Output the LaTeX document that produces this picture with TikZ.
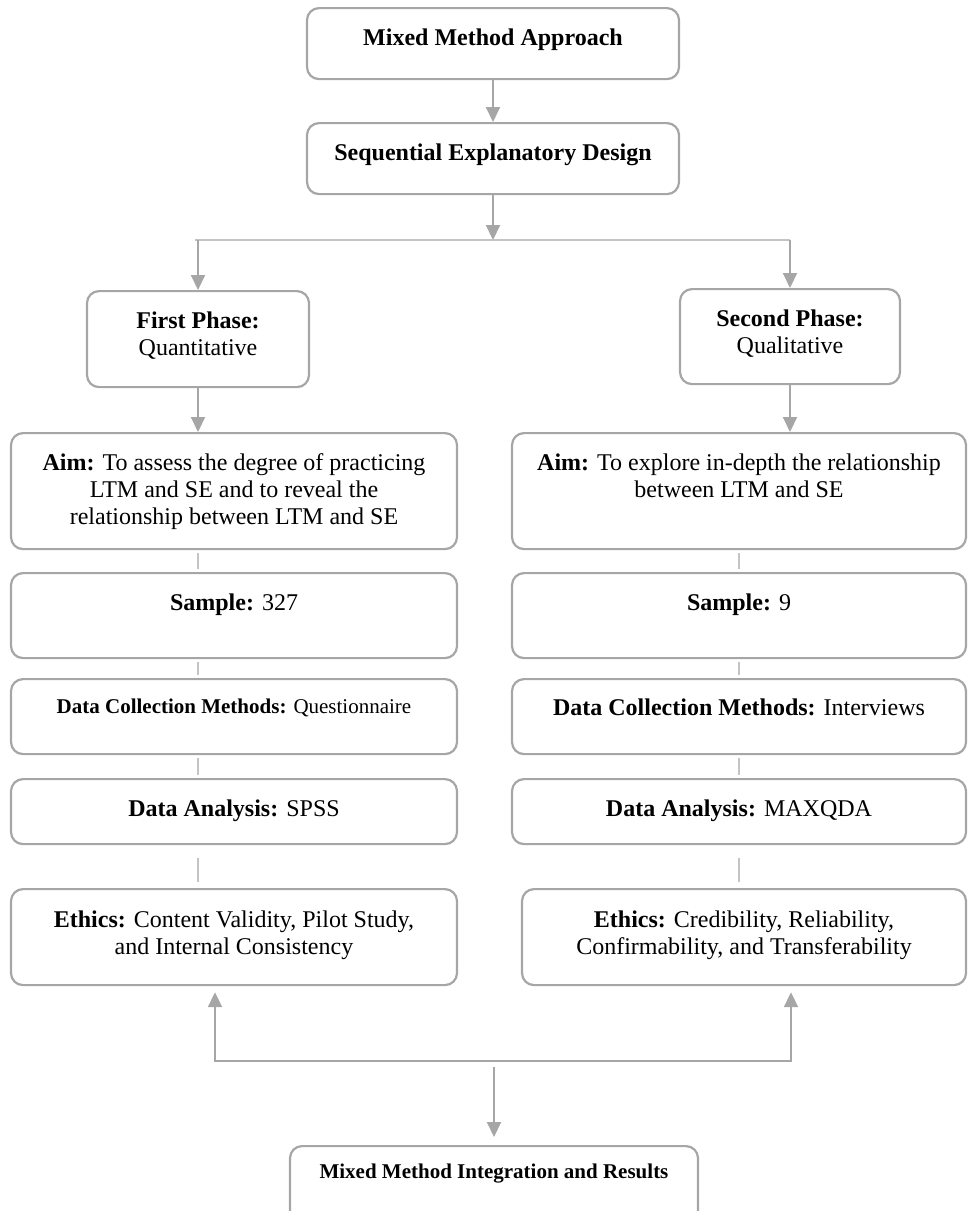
\documentclass[tikz,border=0pt]{standalone}
\usepackage{fontspec}
\setmainfont{Liberation Serif}
\usetikzlibrary{arrows.meta}
\definecolor{boxgray}{HTML}{A6A6A6}
\definecolor{linkgray}{HTML}{C4C4C4}
\begin{document}
\begin{tikzpicture}[x=0.5pt,y=-0.5pt,
    box/.style={draw=boxgray, line width=1.1pt, rounded corners=6pt, anchor=north, align=center,
        inner sep=0pt, text height=18.5pt, font=\fontsize{12}{13.5}\selectfont},
    small/.style={font=\fontsize{10.5}{12}\selectfont},
    flow/.style={draw=boxgray, line width=1pt, -{Triangle[length=7.5pt,width=7pt]}},
    link/.style={draw=linkgray, line width=0.6pt}]
    \useasboundingbox (0,0) rectangle (968,1211);
    \clip (0,0) rectangle (968,1211);

    % top of the design
    \node[box, minimum width=186pt, text depth=17pt] (MM) at (493,7) {\textbf{Mixed Method Approach}};
    \node[box, minimum width=186pt, text depth=17pt] (SE) at (493,122) {\textbf{Sequential Explanatory Design}};

    % the two phases
    \node[box, minimum width=111pt, text height=32pt, text depth=16pt] (FP) at (198,290) {\textbf{First Phase:}\\Quantitative};
    \node[box, minimum width=110pt, text height=32pt, text depth=15.5pt] (SP) at (790,288) {\textbf{Second Phase:}\\Qualitative};

    \node[box, minimum width=223pt, text height=45.5pt, text depth=12.5pt] (AL) at (234,432) {\textbf{Aim:} To assess the degree of practicing\\LTM and SE and to reveal the\\relationship between LTM and SE};
    \node[box, minimum width=227pt, text height=32pt, text depth=26pt] (AR) at (739,432) {\textbf{Aim:} To explore in-depth the relationship\\between LTM and SE};

    \node[box, minimum width=223pt, text depth=24pt] (SL) at (234,572) {\textbf{Sample:} 327};
    \node[box, minimum width=227pt, text depth=24pt] (SR) at (739,572) {\textbf{Sample:} 9};

    \node[box, small, minimum width=223pt, text height=17pt, text depth=20.5pt] (CL) at (234,678) {\textbf{Data Collection Methods:} Questionnaire};
    \node[box, minimum width=227pt, text height=18pt, text depth=19.5pt] (CR) at (739,678) {\textbf{Data Collection Methods:} Interviews};

    \node[box, minimum width=223pt, text depth=14pt] (DL) at (234,778) {\textbf{Data Analysis:} SPSS};
    \node[box, minimum width=227pt, text depth=14pt] (DR) at (739,778) {\textbf{Data Analysis:} MAXQDA};

    \node[box, minimum width=223pt, text height=32.5pt, text depth=15.5pt] (EL) at (234,888) {\textbf{Ethics:} Content Validity, Pilot Study,\\and Internal Consistency};
    \node[box, minimum width=222pt, text height=32.5pt, text depth=15.5pt] (ER) at (744,888) {\textbf{Ethics:} Credibility, Reliability,\\Confirmability, and Transferability};

    % results
    \node[box, small, minimum width=204pt, text height=16pt, text depth=24pt] (IR) at (494,1145) {\textbf{Mixed Method Integration and Results}};

    \coordinate (TL) at (195,240);
    \coordinate (TM) at (493,240);
    \coordinate (TR) at (790,240);
    \coordinate (BL) at (215,1061);
    \coordinate (BR) at (791,1061);
    \coordinate (BM) at (494,1067);

    \draw[flow] (MM) -- (SE);
    \draw[flow] (SE) -- (TM);
    \draw[link, line width=0.8pt] (TL) -- (TR);
    \draw[flow] (TL -| FP) -- (FP);
    \draw[flow] (TR) -- (SP);
    \draw[flow] (FP) -- (FP |- AL.north);
    \draw[flow] (SP) -- (SP |- AR.north);

    \foreach \a/\b in {AL/SL,SL/CL,CL/DL}
        \draw[link, shorten <=1.5pt, shorten >=1.5pt] (\a.south -| FP) -- (\b.north -| FP);
    \draw[link, shorten <=6.5pt, shorten >=3pt] (DL.south -| FP) -- (EL.north -| FP);
    \foreach \a/\b in {AR/SR,SR/CR,CR/DR}
        \draw[link, shorten <=1.5pt, shorten >=1.5pt] (\a.south -| SR) -- (\b.north -| SR);
    \draw[link, shorten <=6.5pt, shorten >=3pt] (DR.south -| SR) -- (ER.north -| SR);

    \draw[flow, {Triangle[length=7.5pt,width=7pt]}-{Triangle[length=7.5pt,width=7pt]}, shorten <=3pt, shorten >=3pt]
        (EL.south -| BL) |- (BR) -- (ER.south -| BR);
    \draw[flow, shorten >=4pt] (BM) -- (IR);
\end{tikzpicture}
\end{document}
